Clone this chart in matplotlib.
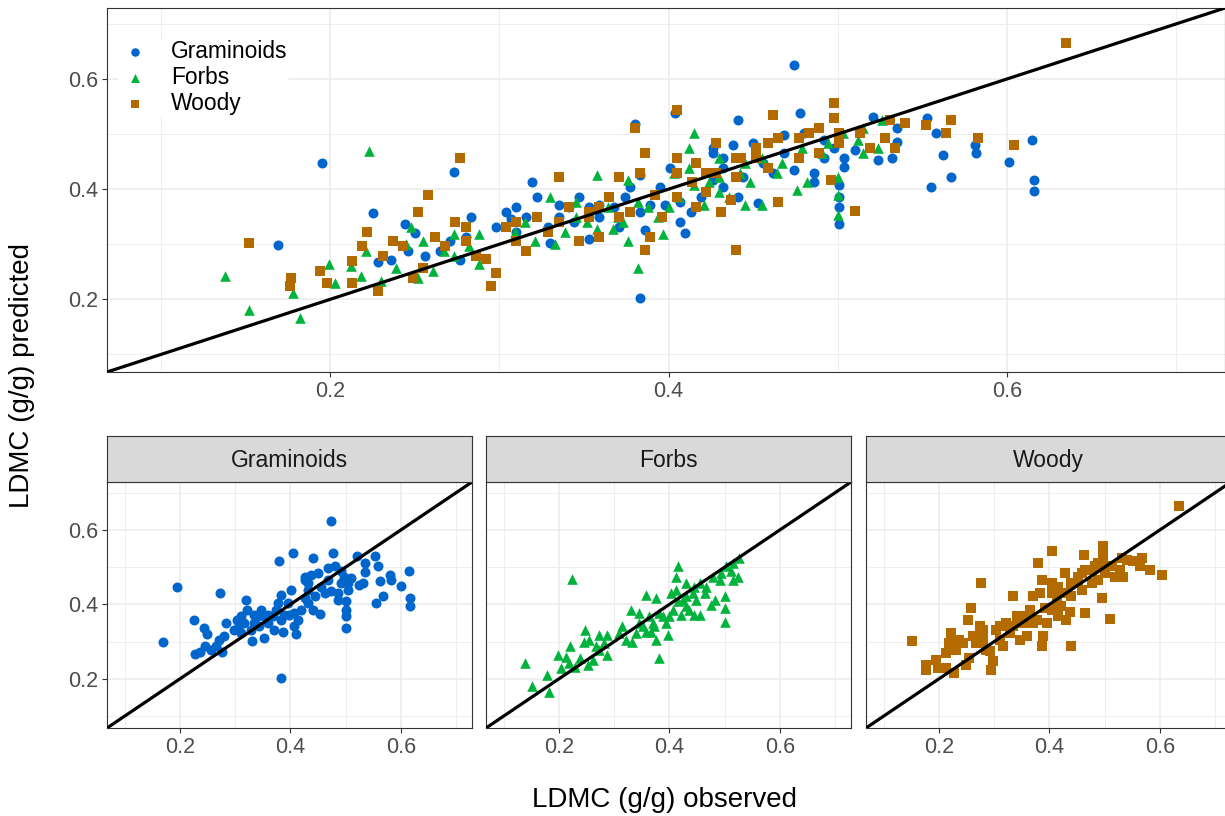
"""
LDMC observed vs predicted, pooled panel plus one facet per growth form
"""

import matplotlib
matplotlib.use('Agg')
import matplotlib.pyplot as plt
from matplotlib.ticker import MultipleLocator

plt.rcParams['font.family'] = ['Liberation Sans', 'DejaVu Sans']

# --- data (observed, predicted) ---
gram_obs = [0.474, 0.195, 0.169, 0.383, 0.273, 0.380, 0.404, 0.441, 0.478, 0.521,
            0.553, 0.535, 0.558, 0.615, 0.581, 0.582, 0.562, 0.601, 0.535, 0.532,
            0.524, 0.567, 0.555, 0.616, 0.616, 0.501, 0.501, 0.501, 0.501, 0.504,
            0.504, 0.498, 0.510, 0.492, 0.480, 0.468, 0.486, 0.453, 0.438, 0.426,
            0.450, 0.432, 0.456, 0.462, 0.444, 0.468, 0.432, 0.441, 0.426, 0.413,
            0.407, 0.401, 0.383, 0.395, 0.407, 0.410, 0.386, 0.371, 0.359, 0.353,
            0.368, 0.374, 0.377, 0.347, 0.341, 0.335, 0.353, 0.319, 0.322, 0.310,
            0.304, 0.316, 0.329, 0.330, 0.310, 0.307, 0.298, 0.283, 0.280, 0.271,
            0.277, 0.265, 0.244, 0.250, 0.225, 0.228, 0.236, 0.246, 0.256, 0.335,
            0.359, 0.389, 0.344, 0.383, 0.398, 0.419, 0.432, 0.426, 0.492, 0.486,
            0.474]
gram_pred = [0.625, 0.448, 0.299, 0.202, 0.432, 0.518, 0.538, 0.525, 0.538, 0.531,
             0.529, 0.511, 0.502, 0.490, 0.480, 0.465, 0.462, 0.450, 0.486, 0.457,
             0.453, 0.422, 0.404, 0.417, 0.396, 0.408, 0.386, 0.368, 0.336, 0.457,
             0.440, 0.475, 0.471, 0.489, 0.502, 0.498, 0.413, 0.375, 0.480, 0.475,
             0.484, 0.457, 0.448, 0.430, 0.422, 0.466, 0.404, 0.386, 0.417, 0.359,
             0.377, 0.439, 0.426, 0.404, 0.341, 0.321, 0.325, 0.332, 0.350, 0.309,
             0.368, 0.386, 0.404, 0.386, 0.368, 0.350, 0.368, 0.413, 0.386, 0.368,
             0.359, 0.350, 0.332, 0.303, 0.323, 0.345, 0.332, 0.350, 0.314, 0.305,
             0.271, 0.287, 0.336, 0.321, 0.357, 0.267, 0.271, 0.287, 0.278, 0.372,
             0.372, 0.372, 0.341, 0.359, 0.372, 0.386, 0.439, 0.466, 0.457, 0.430,
             0.435]

forb_obs = [0.138, 0.152, 0.178, 0.182, 0.223, 0.199, 0.203, 0.221, 0.218, 0.230,
            0.239, 0.248, 0.245, 0.252, 0.261, 0.273, 0.273, 0.288, 0.288, 0.282,
            0.315, 0.330, 0.321, 0.333, 0.345, 0.352, 0.358, 0.367, 0.376, 0.376,
            0.382, 0.388, 0.394, 0.397, 0.403, 0.406, 0.415, 0.412, 0.415, 0.421,
            0.430, 0.430, 0.436, 0.445, 0.445, 0.448, 0.455, 0.464, 0.467, 0.476,
            0.482, 0.491, 0.494, 0.500, 0.500, 0.500, 0.503, 0.512, 0.515, 0.524,
            0.526, 0.515, 0.370, 0.345, 0.339, 0.309, 0.364, 0.382, 0.400, 0.424,
            0.442, 0.455, 0.479, 0.267, 0.255, 0.212, 0.430, 0.412, 0.373, 0.358]
forb_pred = [0.242, 0.181, 0.211, 0.166, 0.469, 0.265, 0.229, 0.287, 0.242, 0.233,
             0.256, 0.332, 0.300, 0.238, 0.251, 0.318, 0.278, 0.318, 0.265, 0.296,
             0.341, 0.386, 0.305, 0.300, 0.377, 0.341, 0.426, 0.327, 0.417, 0.305,
             0.256, 0.368, 0.350, 0.318, 0.430, 0.386, 0.502, 0.475, 0.408, 0.372,
             0.457, 0.422, 0.386, 0.448, 0.372, 0.413, 0.372, 0.430, 0.448, 0.399,
             0.413, 0.466, 0.484, 0.422, 0.390, 0.354, 0.502, 0.489, 0.466, 0.475,
             0.525, 0.511, 0.350, 0.350, 0.323, 0.323, 0.368, 0.377, 0.368, 0.413,
             0.430, 0.457, 0.475, 0.287, 0.305, 0.260, 0.395, 0.439, 0.341, 0.327]

wood_obs = [0.152, 0.635, 0.176, 0.177, 0.194, 0.198, 0.213, 0.228, 0.222, 0.219,
            0.213, 0.231, 0.249, 0.255, 0.243, 0.252, 0.258, 0.262, 0.277, 0.274,
            0.280, 0.286, 0.295, 0.298, 0.292, 0.304, 0.310, 0.316, 0.322, 0.335,
            0.335, 0.341, 0.347, 0.353, 0.359, 0.365, 0.371, 0.380, 0.386, 0.383,
            0.377, 0.389, 0.386, 0.396, 0.405, 0.405, 0.405, 0.414, 0.416, 0.422,
            0.428, 0.431, 0.437, 0.440, 0.443, 0.452, 0.459, 0.462, 0.465, 0.465,
            0.477, 0.483, 0.489, 0.498, 0.498, 0.496, 0.501, 0.510, 0.513, 0.519,
            0.531, 0.534, 0.540, 0.552, 0.567, 0.564, 0.583, 0.604, 0.416, 0.440,
            0.459, 0.422, 0.392, 0.353, 0.329, 0.280, 0.268, 0.310, 0.359, 0.371,
            0.405, 0.428, 0.477, 0.489, 0.501, 0.528, 0.440, 0.452, 0.237]
wood_pred = [0.303, 0.665, 0.224, 0.238, 0.251, 0.229, 0.229, 0.215, 0.323, 0.296,
             0.269, 0.278, 0.238, 0.256, 0.296, 0.359, 0.390, 0.314, 0.457, 0.341,
             0.305, 0.278, 0.224, 0.247, 0.274, 0.332, 0.305, 0.287, 0.350, 0.422,
             0.341, 0.368, 0.305, 0.359, 0.314, 0.386, 0.422, 0.511, 0.466, 0.430,
             0.359, 0.314, 0.289, 0.350, 0.543, 0.457, 0.386, 0.413, 0.368, 0.430,
             0.484, 0.359, 0.381, 0.289, 0.457, 0.475, 0.439, 0.534, 0.377, 0.493,
             0.457, 0.502, 0.466, 0.556, 0.529, 0.417, 0.484, 0.361, 0.502, 0.475,
             0.525, 0.475, 0.520, 0.516, 0.525, 0.502, 0.493, 0.480, 0.448, 0.422,
             0.484, 0.395, 0.390, 0.350, 0.323, 0.332, 0.296, 0.341, 0.368, 0.350,
             0.430, 0.430, 0.493, 0.511, 0.502, 0.493, 0.457, 0.457, 0.305]

groups = ['Graminoids', 'Forbs', 'Woody']
colors = ['#0066CC', '#00B33C', '#B36B00']
markers = ['o', '^', 's']
sizes = [52, 58, 50]
obs = [gram_obs, forb_obs, wood_obs]
pred = [gram_pred, forb_pred, wood_pred]

lims = (0.068, 0.729)


def style_axes(ax):
  ax.set_xlim(lims)
  ax.set_ylim(lims)
  ax.xaxis.set_major_locator(MultipleLocator(0.2))
  ax.yaxis.set_major_locator(MultipleLocator(0.2))
  ax.xaxis.set_minor_locator(MultipleLocator(0.1))
  ax.yaxis.set_minor_locator(MultipleLocator(0.1))
  ax.grid(which='major', color='#EBEBEB', lw=1.1)
  ax.grid(which='minor', color='#EBEBEB', lw=0.6)
  ax.set_axisbelow(True)
  ax.tick_params(which='major', length=3.5, width=0.8, color='#333333',
                 labelcolor='#4D4D4D', labelsize=15.5, pad=3)
  ax.tick_params(which='minor', length=0)
  for s in ax.spines.values():
    s.set_color('#333333')
    s.set_linewidth(0.8)
  ax.xaxis.set_major_formatter(plt.FuncFormatter(lambda v, p: '%.1f' % v))
  ax.yaxis.set_major_formatter(plt.FuncFormatter(lambda v, p: '%.1f' % v))


fig = plt.figure(figsize=(12.25, 8.16), dpi=100)
W, H = 1225.0, 816.0

# pooled panel
ax = fig.add_axes([107 / W, 1 - 372 / H, 1118 / W, 364 / H])
style_axes(ax)
for g, c, m, sz, x, y in zip(groups, colors, markers, sizes, obs, pred):
  ax.scatter(x, y, s=sz, c=c, marker=m, linewidths=0, label=g, zorder=3)
ax.axline((0, 0), slope=1, color='black', lw=2.3, zorder=4)
leg = ax.legend(loc='upper left', bbox_to_anchor=(0.0, 0.943), frameon=True,
                fancybox=False, framealpha=1, edgecolor='white', fontsize=16.4,
                handletextpad=0.8, labelspacing=0.12, borderpad=0.0,
                markerscale=0.85, handlelength=1.5)

# facets
lefts = [107, 486, 866]
for i, (g, c, m, sz, x, y) in enumerate(zip(groups, colors, markers, sizes, obs, pred)):
  fa = fig.add_axes([lefts[i] / W, 1 - 728 / H, 365 / W, 246 / H])
  style_axes(fa)
  fa.scatter(x, y, s=sz, c=c, marker=m, linewidths=0, zorder=3)
  fa.axline((0, 0), slope=1, color='black', lw=2.3, zorder=4)
  if i > 0:
    fa.tick_params(axis='y', labelleft=False, length=0)
  st = fig.add_axes([lefts[i] / W, 1 - 482 / H, 365 / W, 46 / H])
  st.set_facecolor('#D9D9D9')
  st.set_xticks([])
  st.set_yticks([])
  for s in st.spines.values():
    s.set_color('#333333')
    s.set_linewidth(0.8)
  st.text(0.5, 0.47, g, ha='center', va='center', fontsize=16.5, color='#1A1A1A',
          transform=st.transAxes)

fig.text(22 / W, 1 - 376 / H, 'LDMC (g/g) predicted', rotation=90,
         ha='center', va='center', fontsize=20)
fig.text(665 / W, 1 - 800 / H, 'LDMC (g/g) observed', ha='center',
         va='center', fontsize=20)

fig.savefig('out.png', dpi=100)
